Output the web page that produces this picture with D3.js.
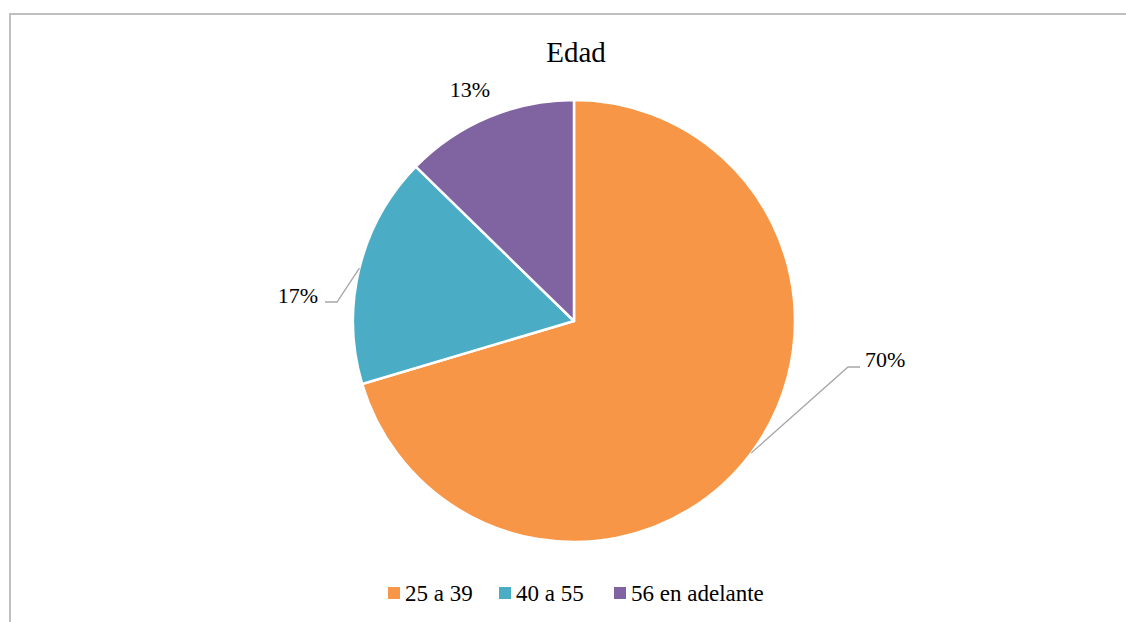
<!DOCTYPE html>
<html>
<head>
<meta charset="utf-8">
<script src="https://cdn.jsdelivr.net/npm/d3@7"></script>
<style>
  html, body { margin: 0; padding: 0; background: #fff; }
  svg { display: block; }
  svg text { font-family: "Liberation Serif", "DejaVu Serif", "Noto Serif", Tinos, "Times New Roman", Times, serif; }
</style>
</head>
<body>
<svg id="chart" width="1126" height="622"></svg>
<script>
const categories = ["25 a 39", "40 a 55", "56 en adelante"];
const values = [70.4, 16.9, 12.7];
const labels = ["70%", "17%", "13%"];
const colors = ["#F79646", "#4BACC6", "#8064A2"];
const title = "Edad";

const W = 1126, H = 622;
const cx = 574, cy = 321, R = 221;

const svg = d3.select("#chart");

// outer frame
svg.append("rect")
  .attr("x", 10).attr("y", 14)
  .attr("width", W + 20).attr("height", H + 20)
  .attr("fill", "#fff")
  .attr("stroke", "#BFBFBF").attr("stroke-width", 2);

svg.append("text")
  .attr("x", 576).attr("y", 62)
  .attr("text-anchor", "middle")
  .attr("font-size", 29)
  .attr("fill", "#000")
  .text(title);

const data = categories.map((c, i) => ({ cat: c, value: values[i], label: labels[i], color: colors[i] }));
const pie = d3.pie().sort(null).value(d => d.value);
const arcs = pie(data);
const arc = d3.arc().innerRadius(0).outerRadius(R);

const g = svg.append("g").attr("transform", `translate(${cx},${cy})`);
g.selectAll("path.slice")
  .data(arcs)
  .join("path")
  .attr("class", "slice")
  .attr("d", arc)
  .attr("fill", d => d.data.color)
  .attr("stroke", "#fff")
  .attr("stroke-width", 2.5)
  .attr("stroke-linejoin", "round");

// label layout (offsets from pie centre)
const labelLayout = [
  { tx: 291, ty: 46, anchor: "start", elbow: [[274, 46], [286, 46]] },
  { tx: -256, ty: -18, anchor: "end", elbow: [[-237, -19], [-249, -19]] },
  { tx: -104, ty: -224, anchor: "middle", elbow: null }
];

arcs.forEach((a, i) => {
  const L = labelLayout[i];
  const mid = (a.startAngle + a.endAngle) / 2;
  const ex = R * Math.sin(mid), ey = -R * Math.cos(mid);
  if (L.elbow) {
    const pts = [[ex, ey], L.elbow[0], L.elbow[1]];
    g.append("path")
      .attr("d", d3.line()(pts))
      .attr("fill", "none")
      .attr("stroke", "#A6A6A6")
      .attr("stroke-width", 1.3);
  }
  g.append("text")
    .attr("x", L.tx).attr("y", L.ty)
    .attr("text-anchor", L.anchor)
    .attr("font-size", 22)
    .attr("fill", "#000")
    .text(a.data.label);
});

// legend
const legendY = 601;
const legendX = [388, 499, 614];
const lg = svg.append("g");
data.forEach((d, i) => {
  lg.append("rect")
    .attr("x", legendX[i]).attr("y", legendY - 14)
    .attr("width", 12).attr("height", 12)
    .attr("fill", d.color);
  lg.append("text")
    .attr("x", legendX[i] + 17).attr("y", legendY)
    .attr("font-size", 23)
    .attr("fill", "#000")
    .text(d.cat);
});
</script>
</body>
</html>
